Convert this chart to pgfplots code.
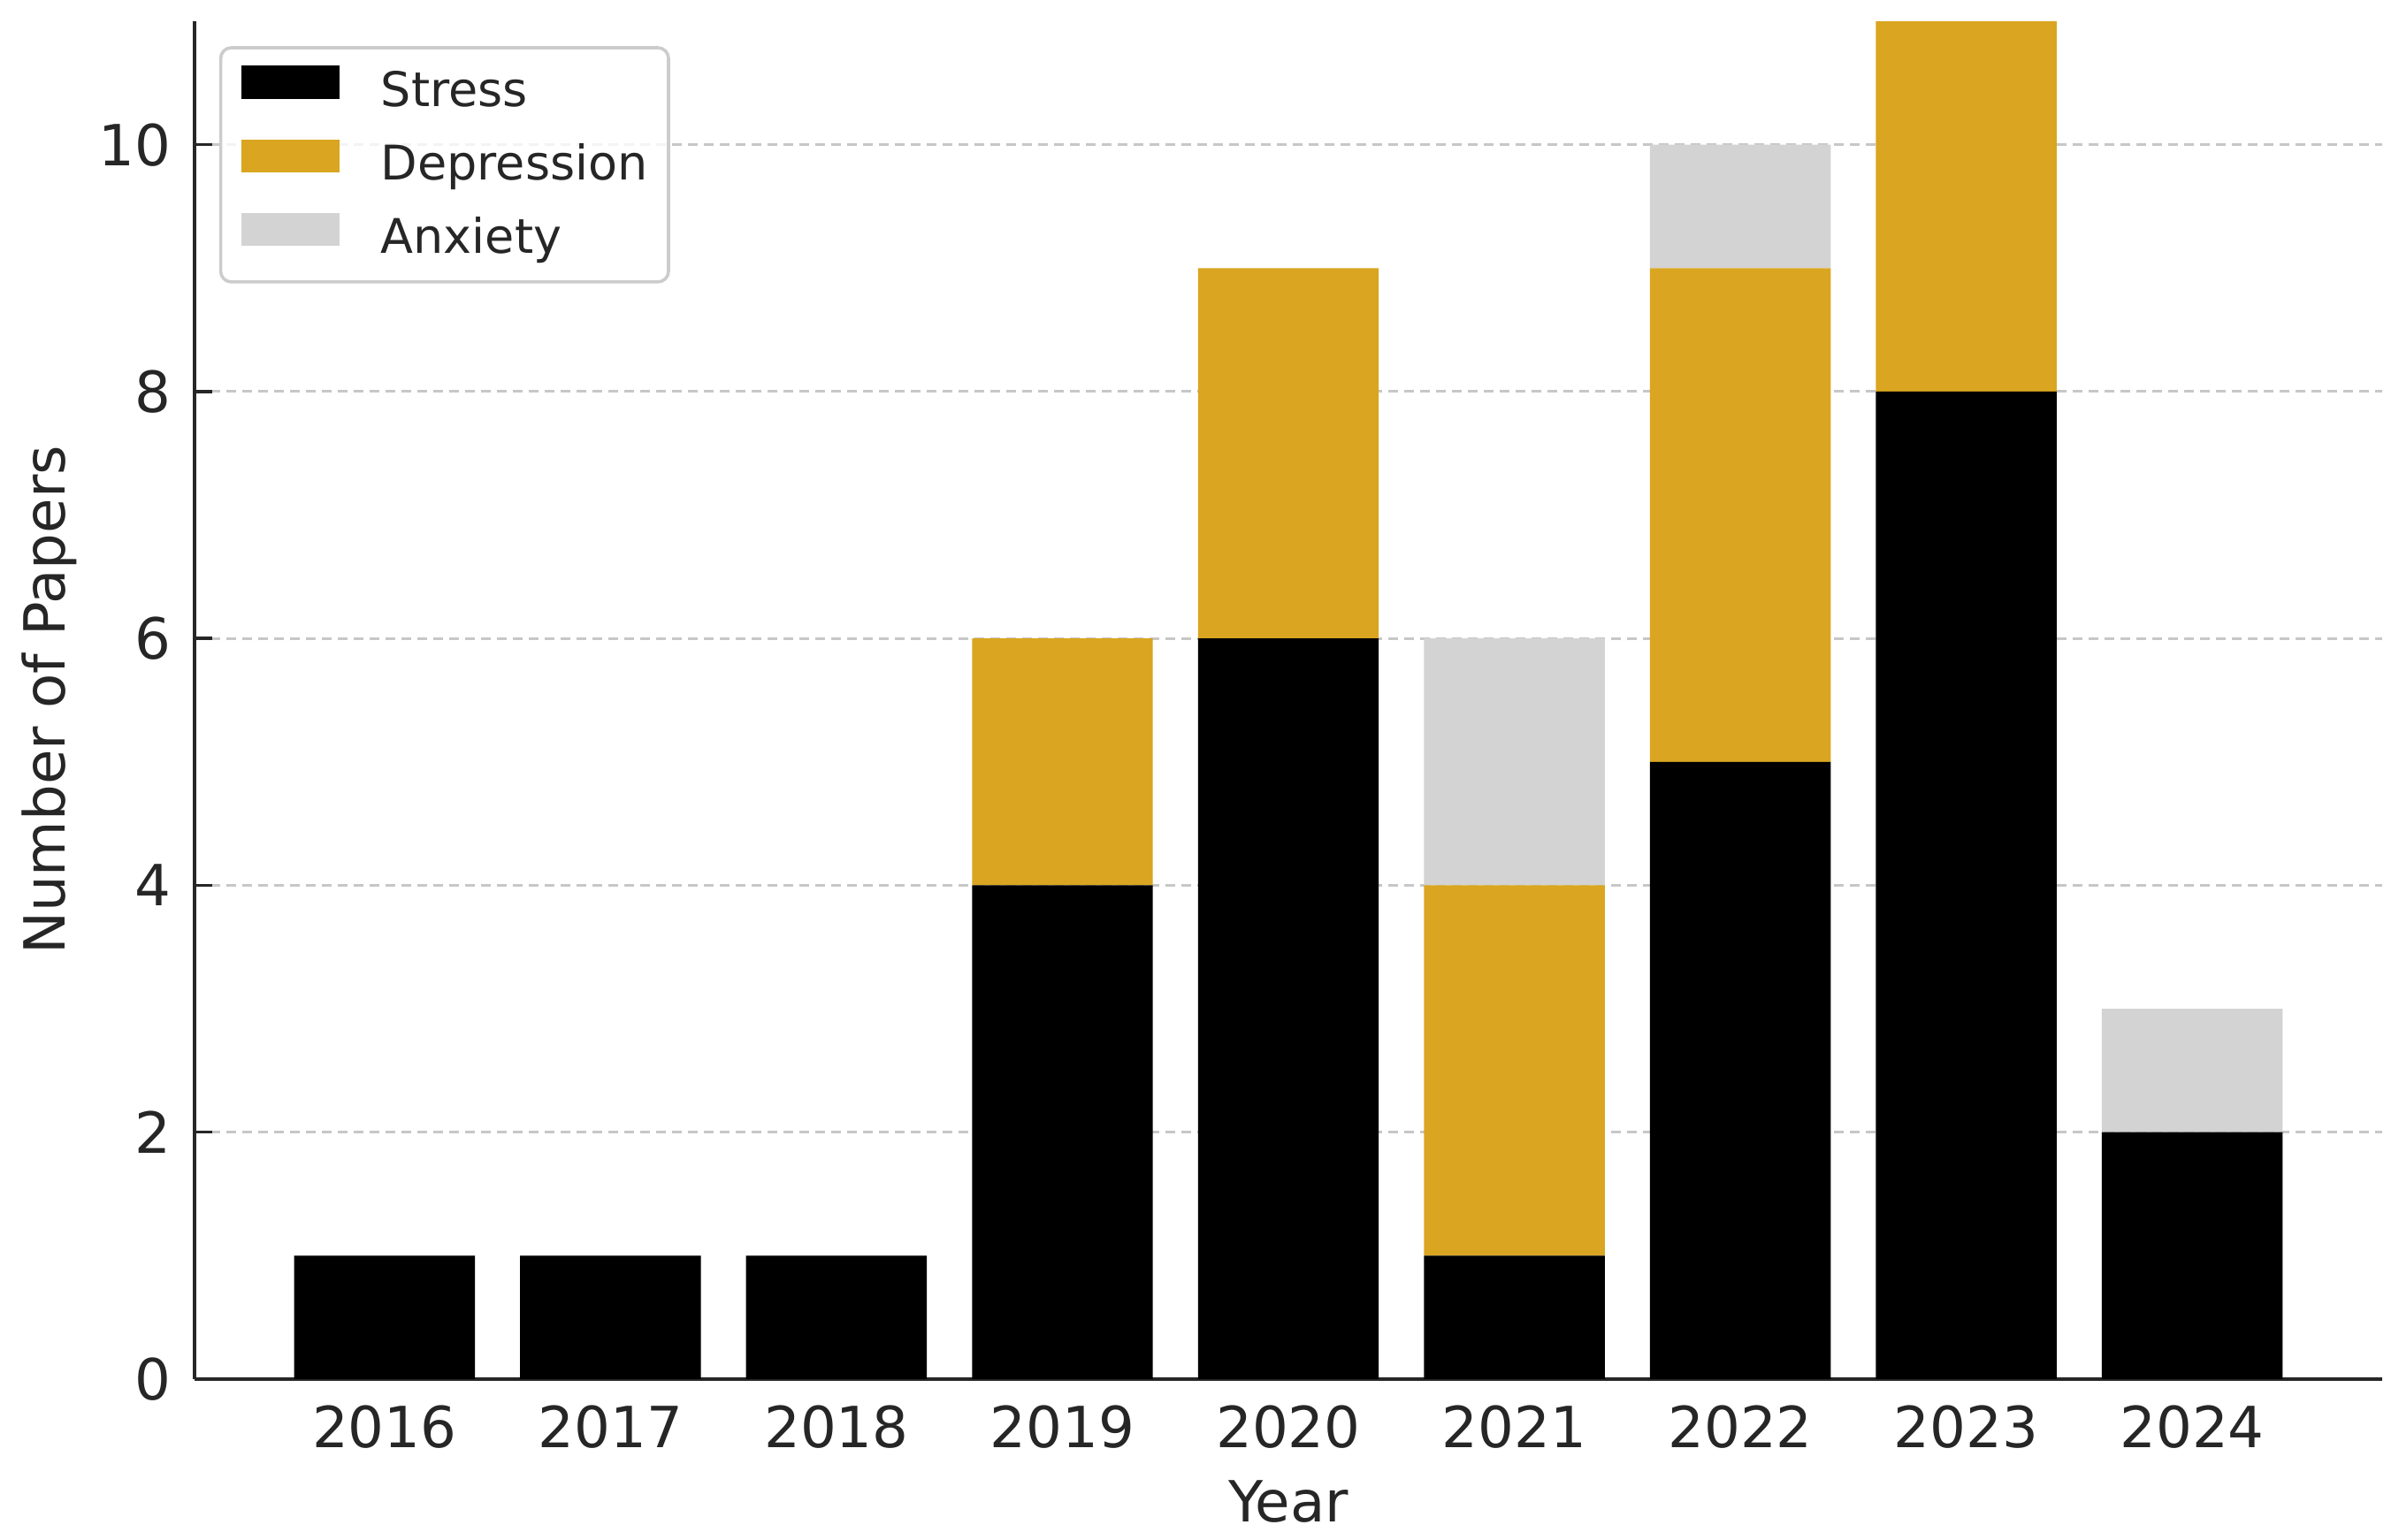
\documentclass[border=0pt]{standalone}
\usepackage{pgfplots}
\pgfplotsset{compat=1.18}
\usepackage{fontspec}
\setmainfont{DejaVu Sans}
\definecolor{gold}{HTML}{DAA520}
\definecolor{lgray}{HTML}{D3D3D3}
\definecolor{spine}{HTML}{262626}
\definecolor{txt}{HTML}{262626}

\begin{document}
\begin{tikzpicture}
\begin{axis}[
    scale only axis,
    width=412.3pt, height=256pt,
    ybar stacked, bar width=0.8,
    xmin=-0.84, xmax=8.84, ymin=0, ymax=11,
    xtick={0,...,8},
    xticklabels={2016,2017,2018,2019,2020,2021,2022,2023,2024},
    ytick={0,2,...,10},
    axis lines*=left,
    axis line style={spine, line width=0.7pt, -},
    tick align=inside,
    major tick length=3.3pt,
    tick style={spine, line width=0.6pt},
    ymajorgrids,
    grid style={black!22, line width=0.5pt, dash pattern=on 1.8pt off 1.2pt},
    /pgf/number format/assume math mode=true,
    ticklabel style={font=\fontsize{10.7}{12}\selectfont, text=txt, inner sep=0pt},
    xticklabel style={anchor=base, yshift=-13pt},
    yticklabel style={anchor=east, xshift=-4.3pt},
    label style={font=\fontsize{10.7}{12}\selectfont, text=txt},
    xlabel={Year},
    ylabel={Number of Papers},
    xlabel style={at={(axis description cs:0.5,-0.1055)}, anchor=base, inner sep=0pt},
    ylabel style={at={(axis description cs:-0.0594,0.5)}, anchor=base, rotate=0, inner sep=0pt},
    legend cell align=left,
    legend image code/.code={\fill[#1, fill opacity=1, sharp corners] (0pt,0.2pt) rectangle (18.5pt,6.4pt);},
    legend style={at={(0,1)}, anchor=north west, xshift=4.6pt, yshift=-4.7pt,
        font=\fontsize{9}{10}\selectfont, text=txt,
        draw=black!20, line width=0.6pt, rounded corners=2pt,
        fill=white, fill opacity=0.8, text opacity=1,
        inner xsep=3.9pt, inner ysep=3.4pt,
        nodes={inner sep=0pt, text height=4.5pt, text depth=2pt},
        row sep=4.2pt, column sep=7.8pt},
]
\addplot[fill=black, draw=none] coordinates {
    (0,1) (1,1) (2,1) (3,4) (4,6) (5,1) (6,5) (7,8) (8,2)
};
\addplot[fill=gold, draw=none] coordinates {
    (0,0) (1,0) (2,0) (3,2) (4,3) (5,3) (6,4) (7,3) (8,0)
};
\addplot[fill=lgray, draw=none] coordinates {
    (0,0) (1,0) (2,0) (3,0) (4,0) (5,2) (6,1) (7,0) (8,1)
};
\legend{Stress,Depression,Anxiety}
\coordinate (bl) at (rel axis cs:0,0);
\coordinate (tr) at (rel axis cs:1,1);
\end{axis}
\pgfresetboundingbox
\path ([shift={(-36.7pt,-30.3pt)}]bl) rectangle ([shift={(3.2pt,4pt)}]tr);
\end{tikzpicture}
\end{document}
